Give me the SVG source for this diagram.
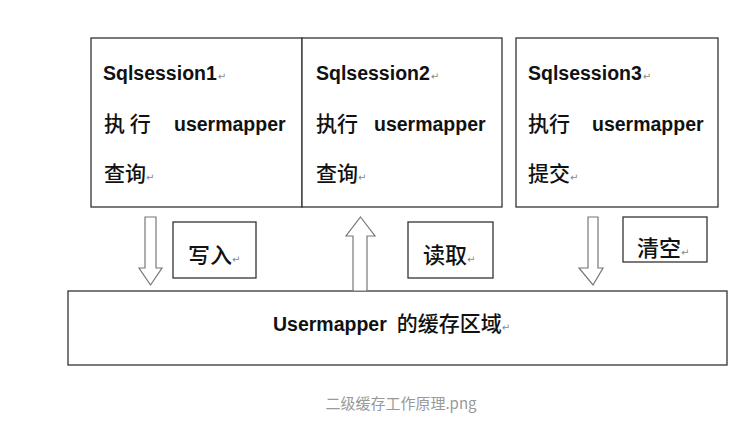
<svg xmlns="http://www.w3.org/2000/svg" width="752" height="423" viewBox="0 0 752 423">
<style>
.box{fill:#fff;stroke:#333;stroke-width:1.3}
.arrow{fill:#fff;stroke:#777;stroke-width:1.2;stroke-linejoin:miter}
.en{font-family:"Liberation Sans",Arial,sans-serif;font-weight:bold;font-size:19.5px;fill:#111}
.cn{font-family:"Noto Sans CJK SC","Noto Sans",sans-serif;font-size:21px;font-weight:500;fill:#111}
.lbl{font-family:"Noto Sans CJK SC","Noto Sans",sans-serif;font-size:22px;font-weight:500;fill:#111}
.ret{font-family:"DejaVu Sans",sans-serif;font-size:10px;font-weight:normal;fill:#888}
.cap{font-family:"Noto Sans CJK SC","Noto Sans",sans-serif;font-size:15px;fill:#999}
</style>
<rect width="752" height="423" fill="#fff"/>
<g id="session1">
<rect class="box" x="91" y="38" width="211" height="169"/>
<text class="en" x="103" y="80">Sqlsession1<tspan class="ret" dx="1">↵</tspan></text>
<text class="cn" x="104" y="131">执 行</text>
<text class="en" x="174" y="131">usermapper</text>
<text class="cn" x="104" y="181">查询<tspan class="ret">↵</tspan></text>
</g>
<g id="session2">
<rect class="box" x="302" y="38" width="200" height="169"/>
<text class="en" x="316" y="80">Sqlsession2<tspan class="ret" dx="1">↵</tspan></text>
<text class="cn" x="316" y="131">执行</text>
<text class="en" x="374" y="131">usermapper</text>
<text class="cn" x="316" y="181">查询<tspan class="ret">↵</tspan></text>
</g>
<g id="session3">
<rect class="box" x="516" y="38" width="202" height="169"/>
<text class="en" x="528" y="80">Sqlsession3<tspan class="ret" dx="1">↵</tspan></text>
<text class="cn" x="528" y="131">执行</text>
<text class="en" x="592" y="131">usermapper</text>
<text class="cn" x="528" y="181">提交<tspan class="ret">↵</tspan></text>
</g>
<g id="cache">
<rect class="box" x="68" y="291" width="659" height="74"/>
<text class="en" x="273" y="331">Usermapper<tspan class="cn" font-size="24px" dx="10">的缓存区域</tspan><tspan class="ret">↵</tspan></text>
</g>
<g id="connectors">
<polygon class="arrow" points="145,217 156,217 156,268 162,268 150.5,285 139,268 145,268"/>
<polygon class="arrow" points="360.5,217 375,236 367,236 367,291 353,291 353,236 346,236"/>
<polygon class="arrow" points="588,217 598,217 598,268 603,268 593,285 579,268 588,268"/>
</g>
<g id="label-write">
<rect class="box" x="173" y="222" width="83" height="56"/>
<text class="lbl" x="188" y="263">写入<tspan class="ret">↵</tspan></text>
</g>
<g id="label-read">
<rect class="box" x="408" y="222" width="85" height="56"/>
<text class="lbl" x="423" y="263">读取<tspan class="ret">↵</tspan></text>
</g>
<g id="label-clear">
<rect class="box" x="623" y="217" width="84" height="45"/>
<text class="lbl" x="637" y="256">清空<tspan class="ret">↵</tspan></text>
</g>
<text class="cap" x="401" y="409" text-anchor="middle">二级缓存工作原理.png</text>
</svg>
